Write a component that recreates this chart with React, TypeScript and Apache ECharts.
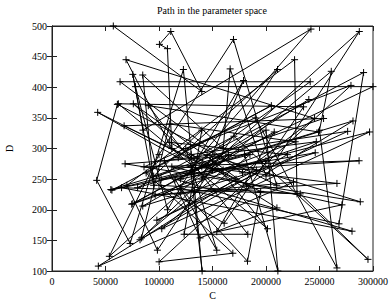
import React, { useEffect, useRef } from "react";
import * as echarts from "echarts";

const TITLE = "Path in the parameter space";
const X_NAME = "C";
const Y_NAME = "D";

const C_VALUES = [
  57300, 140000, 111000, 100400, 107900, 112000, 69200, 245400, 178000, 63600,
  241300, 130000, 242000, 85000, 75500, 95000, 84800, 160000, 166500, 200000,
  287200, 53600, 100000, 169600, 210000, 61100, 41800, 73000, 122800, 140300,
  130000, 300000, 78000, 108000, 179000, 140000, 261000, 250000, 266300, 190000,
  86000, 287000, 150000, 42700, 118000, 210800, 98500, 70000, 226700, 229000,
  65000, 280400, 115000, 154000, 125000, 279400, 100100, 169000, 88000, 205000,
  56000, 185000, 102600, 296800, 160000, 83600, 110000, 227300, 75500, 200000,
  211100, 180000, 68300, 288100, 145000, 291200, 268200, 120000, 182700, 195000,
  67400, 253800, 95000, 140000, 123500, 183000, 90000, 249100, 80000, 170000,
  295300, 232000, 100000, 160900, 235100, 62000, 201400, 150000, 74500, 247000,
  105000, 138400, 210200, 130000, 276300, 98000, 191000, 112000, 271000, 154000,
  207700, 84800, 246000, 102000, 281300, 182000, 76000, 140000, 266300, 96400,
  225700, 43300, 172000, 110000, 220000, 82300, 165000, 55000, 200000, 120000,
  240000,
];

const D_VALUES = [
  500, 393, 491, 470, 463, 300, 445, 349, 260, 409,
  409, 270, 495, 330, 421, 240, 420, 300, 430, 255,
  491, 124, 290, 478, 240, 372, 248, 145, 429, 100,
  260, 401, 401, 200, 411, 250, 426, 330, 105, 350,
  270, 280, 265, 359, 285, 429, 134, 240, 445, 226,
  236, 165, 250, 134, 300, 403, 115, 129, 260, 370,
  232, 290, 169, 327, 265, 154, 340, 311, 210, 330,
  100, 290, 275, 213, 290, 424, 177, 235, 116, 230,
  337, 349, 255, 330, 160, 160, 370, 327, 236, 320,
  119, 226, 240, 178, 368, 373, 169, 280, 209, 311,
  280, 154, 203, 290, 328, 183, 265, 270, 208, 164,
  327, 206, 293, 250, 345, 240, 373, 270, 243, 224,
  245, 108, 250, 310, 290, 151, 290, 233, 280, 250,
  380,
];

const X_MIN = 0;
const X_MAX = 300000;
const X_STEP = 50000;
const Y_MIN = 100;
const Y_MAX = 500;
const Y_STEP = 50;

const FONT = "'Liberation Serif', 'DejaVu Serif', serif";

export default function App() {
  const ref = useRef<HTMLDivElement>(null);

  useEffect(() => {
    if (!ref.current) return;
    const chart = echarts.init(ref.current, null, { renderer: "svg" });
    const data = C_VALUES.map((c, i) => [c, D_VALUES[i]]);
    const axisLine = { show: true, lineStyle: { color: "#222", width: 1 } };
    const tick = { show: true, inside: true, length: 5, lineStyle: { color: "#222", width: 1 } };
    chart.setOption({
      animation: false,
      backgroundColor: "#fff",
      title: {
        text: TITLE,
        left: 212,
        textAlign: "center",
        top: 5,
        padding: 0,
        textStyle: { fontFamily: FONT, fontSize: 10, fontWeight: "normal", color: "#000" },
      },
      grid: {
        left: 52,
        right: 17,
        top: 26,
        bottom: 30,
        show: true,
        borderColor: "#222",
        borderWidth: 1,
        containLabel: false,
        outerBoundsMode: "none",
      },
      xAxis: [
        {
          type: "value",
          min: X_MIN,
          max: X_MAX,
          interval: X_STEP,
          name: X_NAME,
          nameLocation: "middle",
          nameGap: 18,
          nameTextStyle: { fontFamily: FONT, fontSize: 10, color: "#000" },
          axisLine,
          axisTick: tick,
          splitLine: { show: false },
          axisLabel: {
            fontFamily: FONT,
            fontSize: 10,
            color: "#000",
            margin: 5,
            formatter: (v: number) => String(v),
          },
        },
        {
          type: "value",
          position: "top",
          min: X_MIN,
          max: X_MAX,
          interval: X_STEP,
          axisLine,
          axisTick: tick,
          splitLine: { show: false },
          axisLabel: { show: false },
        },
      ],
      yAxis: [
        {
          type: "value",
          min: Y_MIN,
          max: Y_MAX,
          interval: Y_STEP,
          name: Y_NAME,
          nameLocation: "middle",
          nameGap: 38,
          nameRotate: 90,
          nameTextStyle: { fontFamily: FONT, fontSize: 10, color: "#000" },
          axisLine,
          axisTick: tick,
          splitLine: { show: false },
          axisLabel: {
            fontFamily: FONT,
            fontSize: 10,
            color: "#000",
            margin: 5,
            formatter: (v: number) => String(v),
          },
        },
        {
          type: "value",
          position: "right",
          min: Y_MIN,
          max: Y_MAX,
          interval: Y_STEP,
          axisLine,
          axisTick: tick,
          splitLine: { show: false },
          axisLabel: { show: false },
        },
      ],
      series: [
        {
          type: "line",
          data,
          xAxisIndex: 0,
          yAxisIndex: 0,
          symbol: "path://M0,5L10,5M5,0L5,10",
          symbolSize: 7,
          showSymbol: true,
          itemStyle: { color: "#000", borderColor: "#000", borderWidth: 1 },
          lineStyle: { color: "#000", width: 1 },
        },
      ],
    });
    return () => chart.dispose();
  }, []);

  return (
    <div
      ref={ref}
      style={{ position: "fixed", left: 0, top: 0, width: 390, height: 301, background: "#fff" }}
    />
  );
}
